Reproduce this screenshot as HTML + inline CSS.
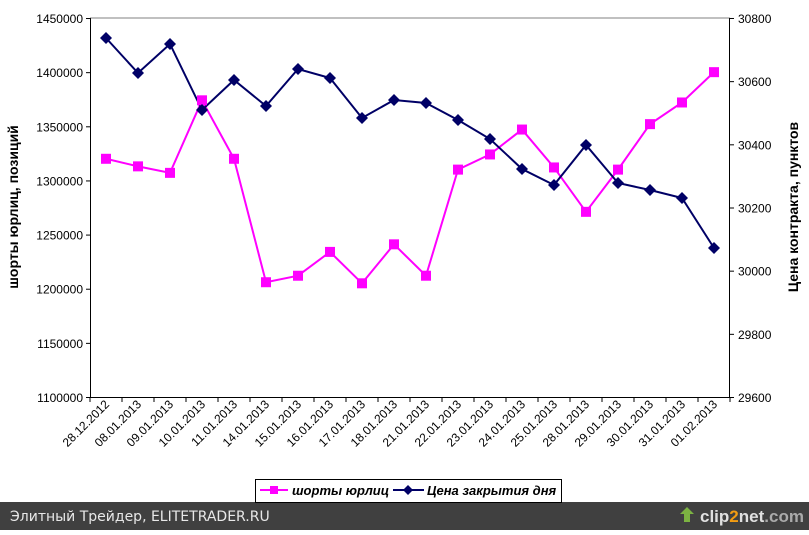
<!DOCTYPE html><html><head><meta charset="utf-8"><style>body{margin:0;width:809px;height:530px;background:#fff;overflow:hidden}</style></head><body>
<svg width="809" height="530" xmlns="http://www.w3.org/2000/svg" font-family="Liberation Sans, sans-serif">
<rect width="809" height="530" fill="#fff"/>
<line x1="90" y1="18" x2="730" y2="18" stroke="#808080"/>
<g stroke="#000" stroke-width="1">
<line x1="90.5" y1="18" x2="90.5" y2="397"/>
<line x1="729.5" y1="18" x2="729.5" y2="397"/>
<line x1="86" y1="397.5" x2="734" y2="397.5"/>
<g id="lt"></g>
</g>
<g id="g"></g>
<rect x="0" y="502" width="809" height="28" fill="#404040"/>
<text x="10" y="521" fill="#e8e8e8" font-size="14" font-family="DejaVu Sans, sans-serif">Элитный Трейдер, ELITETRADER.RU</text>
<text x="700" y="522" fill="#e0e0e0" font-size="17" font-weight="bold">clip<tspan fill="#f39c12">2</tspan>net<tspan fill="#aaa">.com</tspan></text>
<path d="M684 522 l0-8 -4 0 7-7 7 7 -4 0 0 8z" fill="#7cb342"/>
<rect x="255.5" y="479.5" width="306" height="23" fill="#fff" stroke="#000"/>
<line x1="260" y1="490" x2="288" y2="490" stroke="#ff00ff" stroke-width="2"/><rect x="270" y="486" width="8" height="8" fill="#ff00ff"/>
<text x="292" y="495" font-size="13" font-weight="bold" font-style="italic">шорты юрлиц</text>
<line x1="393" y1="490" x2="424" y2="490" stroke="#000066" stroke-width="2"/><path d="M408 485 l5 5 -5 5 -5 -5z" fill="#000066"/>
<text x="427" y="495" font-size="13" font-weight="bold" font-style="italic">Цена закрытия дня</text>
<text transform="translate(18,207) rotate(-90)" text-anchor="middle" font-size="14" font-weight="bold">шорты юрлиц, позиций</text>
<text transform="translate(798,207) rotate(-90)" text-anchor="middle" font-size="14" font-weight="bold">Цена контракта, пунктов</text>
</svg>
<script>
const ns="http://www.w3.org/2000/svg",g=document.getElementById('g'),lt=document.getElementById('lt');
function el(t,a,p){const e=document.createElementNS(ns,t);for(const k in a)e.setAttribute(k,a[k]);(p||g).appendChild(e);return e;}
for(let i=0;i<8;i++){const y=397-i*54.14;el('line',{x1:86,y1:y+.5,x2:90,y2:y+.5},lt);
const t=el('text',{x:83,y:y+5,'text-anchor':'end','font-size':12});t.textContent=1100000+i*50000;}
for(let i=0;i<7;i++){const y=397-i*63.17;el('line',{x1:730,y1:y+.5,x2:734,y2:y+.5},lt);
const r=el('text',{x:738,y:y+5,'font-size':12});r.textContent=29600+i*200;}
const d=["28.12.2012","08.01.2013","09.01.2013","10.01.2013","11.01.2013","14.01.2013","15.01.2013","16.01.2013","17.01.2013","18.01.2013","21.01.2013","22.01.2013","23.01.2013","24.01.2013","25.01.2013","28.01.2013","29.01.2013","30.01.2013","31.01.2013","01.02.2013"];
for(let i=0;i<=20;i++){el('line',{x1:90+i*32,y1:397,x2:90+i*32,y2:402},lt);}
d.forEach((s,i)=>{const x=110+i*32,t=el('text',{x:x,y:405,'text-anchor':'end','font-size':12,transform:`rotate(-45 ${x} 405)`});t.textContent=s;});
const pv=[1320,1313,1307,1374,1320,1206,1212,1234,1205,1241,1212,1310,1324,1347,1312,1271,1310,1352,1372,1400];
const bv=[38,73,44,110,80,106,69,78,118,100,103,120,139,169,185,145,183,190,198,248];
const X=i=>106+i*32;
const pp=pv.map((v,i)=>[X(i),397-(v-1100)/50*54.14]);
el('polyline',{points:pp.map(p=>p.join(',')).join(' '),fill:'none',stroke:'#ff00ff','stroke-width':2});
el('polyline',{points:bv.map((y,i)=>X(i)+','+y).join(' '),fill:'none',stroke:'#000066','stroke-width':2});
pp.forEach(p=>el('rect',{x:p[0]-5,y:p[1]-5,width:10,height:10,fill:'#ff00ff'}));
bv.forEach((y,i)=>el('path',{d:`M${X(i)} ${y-6} l6 6 -6 6 -6 -6z`,fill:'#000066'}));
</script>
</body></html>
